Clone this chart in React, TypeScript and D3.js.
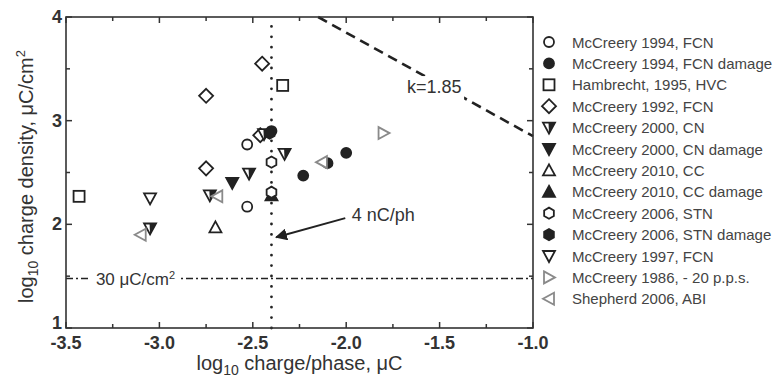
import React from 'react';
import * as d3 from 'd3';

// axis ticks
const xMajorTicks = [-3.5, -3.0, -2.5, -2.0, -1.5, -1.0];
const xMinorTicks = [-3.25, -2.75, -2.25, -1.75, -1.25];
const yMajorTicks = [1, 2, 3, 4];
const yMinorTicks = [1.5, 2.5, 3.5];

// reference lines
const chargeLimit = -2.4; // 4 nC/ph
const densityLimit = Math.log10(30); // 30 uC/cm2
const shannonK = 1.85;

// series: [log10 charge/phase, log10 charge density]
const mc1994FCN = [[-2.53, 2.77], [-2.53, 2.17]];
const mc1994FCNDamage = [[-2.40, 2.90], [-2.23, 2.47], [-2.10, 2.59], [-2.00, 2.69]];
const hambrecht1995 = [[-3.43, 2.27], [-2.34, 3.34]];
const mc1992FCN = [[-2.75, 3.24], [-2.45, 3.55], [-2.75, 2.54], [-2.46, 2.86]];
const mc2000CN = [[-2.52, 2.49], [-2.73, 2.28], [-3.05, 1.96], [-2.33, 2.68], [-2.44, 2.87]];
const mc2000CNDamage = [[-2.61, 2.40]];
const mc2010CC = [[-2.70, 1.97]];
const mc2010CCDamage = [[-2.40, 2.28]];
const mc2006STN = [[-2.40, 2.60], [-2.40, 2.31]];
const mc2006STNDamage = [[-2.41, 2.88]];
const mc1997FCN = [[-3.05, 2.25]];
const mc1986 = [[-1.80, 2.88]];
const shepherd2006 = [[-3.10, 1.90], [-2.69, 2.27], [-2.13, 2.60]];

const series = [
    {name: 'McCreery 1994, FCN', shape: 'circle', fill: 'none', data: mc1994FCN},
    {name: 'McCreery 1994, FCN damage', shape: 'circle', fill: 'solid', data: mc1994FCNDamage},
    {name: 'Hambrecht, 1995, HVC', shape: 'square', fill: 'none', data: hambrecht1995},
    {name: 'McCreery 1992, FCN', shape: 'diamond', fill: 'none', data: mc1992FCN},
    {name: 'McCreery 2000, CN', shape: 'triDown', fill: 'half', data: mc2000CN},
    {name: 'McCreery 2000, CN damage', shape: 'triDown', fill: 'solid', data: mc2000CNDamage},
    {name: 'McCreery 2010, CC', shape: 'triUp', fill: 'none', data: mc2010CC},
    {name: 'McCreery 2010, CC damage', shape: 'triUp', fill: 'solid', data: mc2010CCDamage},
    {name: 'McCreery 2006, STN', shape: 'hexagon', fill: 'none', data: mc2006STN},
    {name: 'McCreery 2006, STN damage', shape: 'hexagon', fill: 'solid', data: mc2006STNDamage},
    {name: 'McCreery 1997, FCN', shape: 'triDown', fill: 'none', data: mc1997FCN},
    {name: 'McCreery 1986, - 20 p.p.s.', shape: 'triRight', fill: 'gray', data: mc1986},
    {name: 'Shepherd 2006, ABI', shape: 'triLeft', fill: 'gray', data: shepherd2006},
];

const ink = '#222';
const grayInk = '#8a8a8a';
const font = '"Liberation Sans", Arial, sans-serif';

const width = 778;
const height = 380;
const margin = {left: 66, top: 17, right: 245, bottom: 52};

function Marker({shape, fill, x, y}) {
    const stroke = fill === 'gray' ? grayInk : ink;
    const solid = fill === 'solid' ? ink : 'white';
    const sw = 1.8;
    const t = `translate(${x},${y})`;
    if (shape === 'circle') {
        return <circle transform={t} r={5} fill={solid} stroke={stroke} strokeWidth={sw}/>;
    }
    if (shape === 'square') {
        return <rect transform={t} x={-5.5} y={-5.5} width={11} height={11} fill="white" stroke={stroke} strokeWidth={sw}/>;
    }
    if (shape === 'diamond') {
        return <path transform={t} d="M0,-7L7,0L0,7L-7,0Z" fill="white" stroke={stroke} strokeWidth={sw}/>;
    }
    if (shape === 'hexagon') {
        const pts = d3.range(6).map(i => {
            const a = Math.PI / 6 + i * Math.PI / 3;
            return [5.6 * Math.cos(a), 5.6 * Math.sin(a)];
        });
        return <path transform={t} d={d3.line()(pts) + 'Z'} fill={solid} stroke={stroke} strokeWidth={sw}/>;
    }
    if (shape === 'triDown') {
        const d = 'M-6,-5L6,-5L0,6Z';
        if (fill === 'half') {
            return <g transform={t}>
                <path d={d} fill="white" stroke={stroke} strokeWidth={sw}/>
                <path d="M-0.5,-5L6,-5L0,6Z" fill={ink}/>
            </g>;
        }
        return <path transform={t} d={d} fill={solid} stroke={stroke} strokeWidth={sw}/>;
    }
    if (shape === 'triUp') {
        return <path transform={t} d="M0,-6L6,5L-6,5Z" fill={solid} stroke={stroke} strokeWidth={sw}/>;
    }
    if (shape === 'triRight') {
        return <path transform={t} d="M-5,-6L6,0L-5,6Z" fill="white" stroke={stroke} strokeWidth={sw}/>;
    }
    return <path transform={t} d="M5,-6L-6,0L5,6Z" fill="white" stroke={stroke} strokeWidth={sw}/>;
}

export default function App() {
    const x = d3.scaleLinear().domain([-3.5, -1.0]).range([margin.left, width - margin.right]);
    const y = d3.scaleLinear().domain([1, 4]).range([height - margin.bottom, margin.top]);
    const [x0, x1] = x.range();
    const [y0, y1] = y.range();

    // Shannon line: log D = k - log Q
    const shannonStart = shannonK - 4;
    const shannonLine = d3.line()([[x(shannonStart), y(4)], [x(-1.0), y(shannonK + 1.0)]]);

    const legendX = 549;
    const legendY = 42;
    const legendStep = 21.4;

    return (
        <svg width={width} height={height} style={{position: 'absolute', left: 0, top: 0, background: 'white'}}
             fontFamily={font}>
            {/* reference lines */}
            <line x1={x(chargeLimit)} x2={x(chargeLimit)} y1={y0} y2={y1} stroke={ink} strokeWidth={2.8}
                  strokeDasharray="0 10.4" strokeLinecap="round"/>
            <line x1={x0} x2={x1} y1={y(densityLimit)} y2={y(densityLimit)} stroke={ink} strokeWidth={1.6}
                  strokeDasharray="7 3 2 3"/>
            <path d={shannonLine} stroke={ink} strokeWidth={2.6} strokeDasharray="10 6" fill="none"/>

            {/* labels with white backing */}
            <rect x={x(-1.69)} y={y(3.43)} width={60} height={26} fill="white"/>
            <text x={x(-1.675)} y={y(3.27)} fontSize={18} fill="#333">k=1.85</text>
            <rect x={x(-3.37)} y={y(densityLimit) - 14} width={88} height={24} fill="white"/>
            <text x={x(-3.34)} y={y(densityLimit) + 6} fontSize={17} fill="#333">
                30 μC/cm<tspan dy={-6} fontSize={11}>2</tspan>
            </text>
            <text x={x(-1.97)} y={y(2.05) + 2} fontSize={18} fill="#333">4 nC/ph</text>
            <defs>
                <marker id="arrowHead" viewBox="0 0 10 10" refX={9} refY={5} markerWidth={6} markerHeight={6}
                        orient="auto">
                    <path d="M0,0L10,5L0,10Z" fill={ink}/>
                </marker>
            </defs>
            <line x1={x(-2.005)} y1={y(2.06)} x2={x(-2.375)} y2={y(1.875)} stroke={ink} strokeWidth={2}
                  markerEnd="url(#arrowHead)"/>

            {/* data */}
            {series.map(s => s.data.map((d, i) =>
                <Marker key={s.name + i} shape={s.shape} fill={s.fill} x={x(d[0])} y={y(d[1])}/>
            ))}

            {/* frame and ticks */}
            <rect x={x0} y={y1} width={x1 - x0} height={y0 - y1} fill="none" stroke="#333" strokeWidth={1.6}/>
            {xMajorTicks.map(t => <g key={'xM' + t}>
                <line x1={x(t)} x2={x(t)} y1={y0} y2={y0 - 6} stroke="#333" strokeWidth={1.5}/>
                <line x1={x(t)} x2={x(t)} y1={y1} y2={y1 + 6} stroke="#333" strokeWidth={1.5}/>
                <text x={x(t)} y={y0 + 21} textAnchor="middle" fontSize={18} fontWeight="bold" fill="#333">
                    {t.toFixed(1)}
                </text>
            </g>)}
            {xMinorTicks.map(t => <g key={'xm' + t}>
                <line x1={x(t)} x2={x(t)} y1={y0} y2={y0 - 4} stroke="#333" strokeWidth={1.5}/>
                <line x1={x(t)} x2={x(t)} y1={y1} y2={y1 + 4} stroke="#333" strokeWidth={1.5}/>
            </g>)}
            {yMajorTicks.map(t => <g key={'yM' + t}>
                <line x1={x0} x2={x0 + 6} y1={y(t)} y2={y(t)} stroke="#333" strokeWidth={1.5}/>
                <line x1={x1} x2={x1 - 6} y1={y(t)} y2={y(t)} stroke="#333" strokeWidth={1.5}/>
                <text x={x0 - 4} y={y(t) + (t === 1 ? 1 : 6)} textAnchor="end" fontSize={18} fontWeight="bold"
                      fill="#333">{t}</text>
            </g>)}
            {yMinorTicks.map(t => <g key={'ym' + t}>
                <line x1={x0} x2={x0 + 4} y1={y(t)} y2={y(t)} stroke="#333" strokeWidth={1.5}/>
                <line x1={x1} x2={x1 - 4} y1={y(t)} y2={y(t)} stroke="#333" strokeWidth={1.5}/>
            </g>)}

            {/* axis titles */}
            <text x={(x0 + x1) / 2} y={y0 + 42} textAnchor="middle" fontSize={20} fill="#333">
                log<tspan dy={5} fontSize={14}>10</tspan><tspan dy={-5}> charge/phase, μC</tspan>
            </text>
            <text transform={`translate(33,${(y0 + y1) / 2 + 4}) rotate(-90)`} textAnchor="middle" fontSize={20}
                  fill="#333">
                log<tspan dy={5} fontSize={14}>10</tspan><tspan dy={-5}> charge density, μC/cm</tspan>
                <tspan dy={-8} fontSize={13}>2</tspan>
            </text>

            {/* legend */}
            {series.map((s, i) => <g key={'lg' + i}>
                <Marker shape={s.shape} fill={s.fill} x={legendX} y={legendY + i * legendStep}/>
                <text x={legendX + 23} y={legendY + i * legendStep + 5.5} fontSize={15} fill="#444">{s.name}</text>
            </g>)}
        </svg>
    );
}
